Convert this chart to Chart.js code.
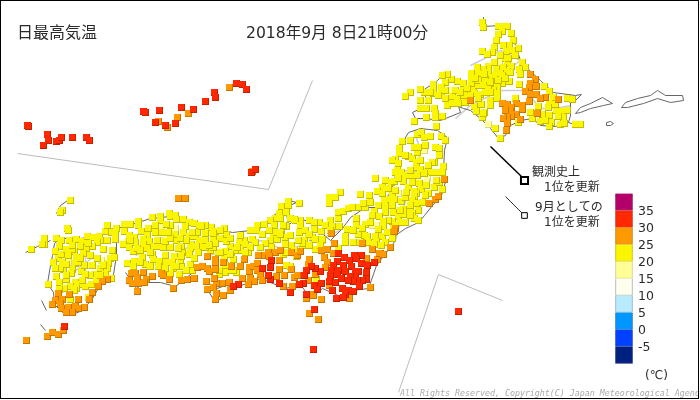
<!DOCTYPE html>
<html>
<head>
<meta charset="utf-8">
<style>
  html, body { margin: 0; padding: 0; background: #fff; }
  #wrap { position: relative; width: 700px; height: 400px; }
  #frame { position: absolute; left: 0; top: 0; width: 697px; height: 397px; border: 1.5px solid #000; pointer-events: none; }
</style>
<script src="https://cdn.jsdelivr.net/npm/chart.js@4"></script>
</head>
<body>
<div id="wrap">
  <canvas id="mapChart" width="700" height="400"></canvas>
  <div id="frame"></div>
</div>
<script>
// Station readings, grouped by temperature band: [x, y] on the map grid
const stationsPale = [
  [68,262],[90,265],[101,260],[161,226],[175,228],[166,237],[159,240],[208,232],[302,234],[322,240],
  [424,150],[427,178],[426,182],[398,193],[372,225],[376,225],[499,62],[449,90],[488,124]
];
const stationsYellow = [
  // Kyushu
  [70,200],[62,210],[60,212],[44,238],[44,244],[42,244],[31,249],[67,228],[68,230],[56,238],[61,240],[59,246],[55,251],[58,258],[53,262],[61,254],[66,249],[69,240],[76,239],[82,241],[87,236],[93,237],[99,236],[100,240],[97,242],[92,246],[86,248],[80,246],[74,251],[72,249],[83,253],[76,257],[75,263],[63,269],[72,269],[71,273],[81,271],[84,265],[92,265],[103,249],[107,240],[111,232],[105,231],[107,225],[116,228],[115,234],[115,239],[112,250],[110,258],[114,257],[108,263],[100,268],[107,268],[105,274],[111,278],[94,274],[90,275],[85,274],[56,276],[59,282],[66,279],[48,284],[75,282],[79,284],[85,286],[91,284],[70,286],[76,288],[74,290],[64,288],[59,289],[70,299],[88,297],
  [78,262],[68,255],[62,262],[90,255],[97,258],[103,265],[80,258],[72,245],[60,268],[66,275],[55,268],[82,280],[96,280],[100,275],[66,264],[88,243],
  // Chugoku, Shikoku
  [152,217],[160,216],[169,213],[170,216],[175,215],[176,219],[183,219],[189,222],[194,223],[199,225],[160,220],[155,225],[138,221],[138,225],[124,224],[130,224],[124,231],[129,235],[134,237],[128,242],[123,244],[129,247],[133,251],[135,242],[141,231],[147,235],[143,239],[149,241],[143,244],[147,248],[154,246],[158,246],[163,247],[170,247],[176,240],[175,234],[170,225],[166,224],[185,226],[183,232],[189,236],[195,236],[197,232],[199,240],[191,244],[190,248],[196,246],[198,252],[189,254],[182,252],[181,246],[174,256],[152,254],[153,259],[142,257],[145,264],[127,263],[134,261],[133,266],[159,261],[158,266],[166,262],[172,262],[173,268],[170,273],[179,274],[192,270],[190,264],[181,266],[180,260],[181,256],
  [130,240],[137,248],[150,252],[157,240],[165,241],[170,238],[165,255],[178,248],[186,240],[192,232],[180,238],[140,250],[148,228],[155,232],[162,232],[168,232],[140,262],[150,266],[165,268],[186,270],[176,266],[194,258],[203,246],
  // Kinki, Chubu, Kanto
  [288,201],[288,205],[299,203],[281,206],[286,212],[279,213],[275,218],[280,218],[270,220],[264,224],[257,225],[250,230],[256,230],[262,234],[252,239],[244,240],[239,242],[245,244],[240,250],[248,252],[231,254],[233,259],[226,234],[224,228],[211,227],[205,225],[201,226],[215,231],[220,238],[213,238],[205,240],[230,246],[226,241],[218,252],[210,250],[213,247],[205,247],[225,251],[224,258],[225,272],[219,274],[236,272],[230,270],[273,236],[276,232],[281,232],[277,239],[285,237],[286,226],[290,218],[294,219],[300,220],[309,220],[319,222],[314,229],[321,231],[312,237],[322,239],[304,240],[302,245],[291,245],[285,244],[270,240],[283,254],[286,265],[302,243],[315,249],[330,220],[332,226],[339,226],[338,218],[338,212],[343,211],[348,208],[340,192],[329,197],[335,197],[329,203],[347,229],[345,236],[345,242],[338,248],[316,279],[290,266],[296,256],
  [283,225],[295,220],[300,225],[314,222],[325,225],[330,230],[274,225],[269,230],[280,234],[290,235],[299,232],[305,230],[309,234],[315,239],[320,245],[298,240],[309,245],[294,250],[285,252],[271,247],[265,243],[260,247],[255,242],[250,247],[245,252],[235,250],[230,254],[220,252],[215,243],[209,245],[220,230],[213,233],[205,233],[230,238],[237,247],[240,235],[233,270],[219,270],[225,265],
  // Tohoku
  [417,134],[421,132],[424,137],[430,136],[441,136],[445,140],[410,140],[402,141],[399,148],[399,153],[395,159],[392,160],[398,163],[408,156],[412,158],[417,152],[414,147],[418,147],[425,145],[435,147],[439,148],[439,155],[434,162],[432,162],[416,162],[416,167],[420,169],[427,171],[432,172],[437,172],[443,166],[442,172],[397,170],[395,172],[401,172],[405,175],[411,175],[417,175],[424,173],[375,178],[385,180],[391,182],[394,181],[403,181],[408,187],[414,191],[419,183],[421,189],[434,187],[439,182],[442,189],[428,193],[416,193],[414,196],[392,193],[382,187],[377,191],[382,193],[360,194],[369,195],[378,205],[384,200],[390,199],[394,199],[385,206],[401,201],[405,197],[412,200],[417,203],[422,202],[403,209],[410,209],[418,210],[412,213],[414,218],[418,220],[358,207],[365,207],[363,203],[352,207],[374,211],[385,212],[393,212],[398,216],[403,214],[410,215],[379,216],[372,215],[356,218],[365,224],[356,225],[392,221],[388,220],[383,221],[383,226],[393,228],[375,236],[364,235],[382,236],[358,234],[353,230],[367,236],[387,232],[392,238],[385,242],[376,241],[368,242],[360,242],[353,242],[374,244],[381,245],
  [405,155],[420,160],[428,165],[410,170],[436,180],[426,185],[412,182],[398,178],[388,188],[406,192],[395,190],[400,210],[392,205],[425,195],[410,205],[370,202],[395,225],[370,222],[362,228],[378,229],[400,222],[405,222],
  // Hokkaido
  [482,22],[483,27],[498,26],[503,26],[507,26],[502,31],[498,34],[511,33],[496,40],[513,40],[509,45],[494,47],[503,45],[518,48],[492,52],[482,51],[487,54],[506,51],[512,50],[505,58],[507,63],[522,62],[525,67],[519,69],[520,74],[511,66],[503,67],[496,69],[488,66],[483,69],[477,67],[471,73],[471,79],[480,77],[488,72],[491,77],[485,79],[495,75],[500,73],[507,71],[509,81],[502,83],[491,83],[497,87],[493,90],[497,93],[497,98],[490,100],[490,105],[481,104],[474,106],[476,111],[484,112],[482,117],[483,113],[468,93],[463,88],[457,81],[451,79],[447,74],[442,75],[445,82],[433,84],[433,88],[433,93],[424,92],[420,89],[410,92],[405,96],[420,100],[428,100],[441,87],[441,93],[445,98],[447,105],[452,96],[457,98],[452,103],[458,103],[465,102],[464,95],[473,87],[474,93],[480,94],[478,85],[471,83],[463,83],[420,108],[426,108],[434,108],[426,117],[435,113],[435,117],[442,116],[414,121],[436,126],[519,84],[515,98],[544,86],[549,91],[553,97],[567,98],[572,99],[538,106],[549,103],[548,107],[556,110],[562,111],[567,110],[542,114],[549,115],[563,117],[532,118],[540,121],[551,122],[549,126],[560,124],[564,123],[575,124],[580,124],[518,122],[495,128],[500,138],
  [478,80],[483,85],[488,88],[455,90],[460,92],[470,96],[478,98],[485,92],[490,92],[438,95],[430,92],[445,90],[502,75],[498,80],[505,78],[510,72],[494,62],[500,55],[478,73],[484,74],[490,82],[467,88],[475,78],[515,55],[508,58],[545,120],[558,116],[555,104],[530,112]
];
const stationsOrange = [
  [178,198],[185,198],[158,121],[167,127],[177,117],[188,113],[229,87],[252,171],
  [107,279],[102,281],[98,286],[92,292],[89,299],[84,307],[78,299],[69,294],[58,293],[62,299],[55,300],[52,304],[60,303],[61,308],[68,307],[75,306],[78,308],[72,312],[66,312],[47,336],[52,332],[58,334],[63,330],[26,340],
  [131,273],[135,273],[143,272],[152,276],[161,273],[163,275],[137,277],[146,279],[129,280],[132,283],[138,283],[144,282],[169,279],[181,280],[187,279],[194,278],[173,288],[137,291],[197,267],
  [207,256],[215,259],[215,262],[223,262],[202,266],[207,268],[209,271],[215,269],[231,266],[240,266],[244,259],[249,267],[249,271],[253,266],[257,270],[257,263],[262,255],[258,255],[260,274],[262,280],[250,278],[254,281],[248,284],[242,278],[229,282],[222,283],[216,283],[214,278],[206,281],[207,289],[213,287],[230,290],[216,293],[223,295],[215,299],[268,252],[275,252],[280,250],[269,256],[279,260],[279,269],[291,269],[284,275],[276,276],[294,277],[297,275],[291,252],[297,255],[300,251],[309,259],[308,264],[321,250],[327,249],[333,253],[324,257],[327,262],[325,267],[315,274],[308,280],[292,286],[283,286],[310,294],[313,295],[306,298],[321,299],[309,313],[318,319],[370,287],[349,298],[329,285],[390,247],[395,228],[380,253],[377,259],[372,249],[362,243],[334,243],[331,233],[366,258],
  [444,179],[429,203],[435,199],[438,196],[394,231],[379,253],[383,254],
  [530,74],[535,79],[530,83],[529,87],[536,86],[525,91],[530,94],[536,94],[545,97],[540,98],[558,99],[529,101],[502,103],[507,104],[516,103],[511,107],[522,105],[522,109],[510,111],[505,110],[516,114],[511,116],[507,117],[503,118],[520,119],[507,123],[506,130],[537,113],[470,100]
];
const stationsRed = [
  [27,125],[28,126],[47,134],[48,140],[43,145],[56,141],[59,140],[61,137],[72,137],[86,137],[89,140],
  [143,111],[145,112],[159,110],[155,122],[165,125],[175,123],[181,107],[193,109],[205,101],[214,92],[215,97],[236,83],[242,84],[246,89],[251,172],[255,169],
  [64,326],[458,311],
  [338,253],[344,257],[354,255],[361,255],[356,258],[349,260],[337,261],[333,265],[343,265],[351,266],[361,263],[367,265],[374,262],[331,270],[338,270],[345,271],[355,271],[358,271],[366,272],[337,274],[355,276],[350,276],[330,275],[366,279],[362,280],[357,280],[353,281],[348,280],[341,278],[335,282],[329,281],[321,283],[314,285],[317,289],[332,290],[342,288],[348,290],[353,291],[359,286],[345,294],[336,298],[343,297],[320,271],[315,268],[311,266],[306,270],[304,275],[303,283],[299,284],[306,294],[290,292],[279,283],[270,279],[268,275],[262,268],[270,267],[271,260],[238,284],[233,286],[314,309],[313,349]
];

// Colours for the bands above
const paleColors = ['#FFFF96', '#D8D880'];
const yellowColors = ['#FAF500', '#C4BC00'];
const orangeColors = ['#FF9900', '#C47600'];
const redColors = ['#FF2800', '#C42000'];

// Colour bar of the key
const keyEdges = [193, 210, 227, 244, 261, 278, 295, 312, 329, 346, 363];
const keyColors = ['#B40068', '#FF2800', '#FF9900', '#FAF500', '#FFFF96', '#FFFFF0', '#B9EBFF', '#0096FF', '#0041FF', '#002080'];
const keyBorders = ['#8a0050', '#c42000', '#c47600', '#c4bc00', '#d0d080', '#b0b0a0', '#8cb0c0', '#0070c0', '#0030c0', '#001860'];
const keyLabels = ['35', '30', '25', '20', '15', '10', '5', '0', '-5'];

// Coast and boundary outlines
const coastLines = [
  [[575,113],[580,107],[590,103],[602,97],[612,103],[603,105],[590,108],[580,112],[575,113]],
  [[621,107],[625,102],[637,98],[650,95],[657,90],[665,95],[682,95],[683,100],[670,102],[657,98],[643,103],[627,107],[621,107]],
  [[606,122],[610,121],[613,123],[610,125],[606,125],[606,122]],
  [[483,17],[483,26],[500,25],[510,30],[515,45],[520,60],[527,68],[540,80],[553,92],[575,95],[581,94],[575,100],[570,102],[570,115],[568,122],[582,127]],
  [[568,122],[555,126],[540,125],[532,118],[520,120],[510,125],[505,135],[498,138],[490,128],[480,118],[470,110],[463,108],[458,106],[460,112],[440,120],[425,118],[415,118],[412,112],[420,108]],
  [[442,75],[437,80],[430,85],[425,88],[425,100]],
  [[420,128],[437,130],[447,137],[444,150],[443,170],[446,178],[441,195],[432,205],[424,215],[418,222],[405,228],[395,235]],
  [[378,207],[390,192],[396,172],[399,147],[408,132],[420,128]],
  [[378,207],[365,207],[350,217],[342,228],[330,240],[318,230],[310,221],[295,218],[288,225],[285,207],[296,202],[289,200],[282,208],[262,224],[250,230],[232,232],[215,228],[200,224],[170,216],[150,218],[125,226],[116,228]],
  [[116,228],[106,229],[100,235],[80,238],[60,238],[54,243],[52,255],[50,265],[47,283],[53,292],[54,304],[62,312],[72,314],[82,310],[92,298],[100,284],[113,274],[116,255],[116,240]],
  [[125,272],[136,288],[145,282],[160,282],[175,286],[195,270]],
  [[222,297],[215,302],[208,291],[225,285],[235,287],[260,278],[285,288],[300,284],[310,298],[322,288],[340,296],[345,300],[352,290],[368,288],[376,265],[395,240]],
  [[25,252],[37,246],[50,240]],[[56,213],[60,205],[70,198]],[[41,300],[46,310]],[[40,324],[45,330]]
];
const innerLines = [
  [[455,118],[470,105],[480,100],[500,90],[525,90],[540,108],[555,108],[570,105]],
  [[470,65],[500,50],[520,60],[500,75],[490,90]],
  [[405,190],[415,180],[420,150],[415,135]],[[400,170],[430,172]],[[395,240],[405,200]],
  [[60,260],[75,270],[95,255]],[[85,255],[85,290]],[[135,255],[155,245],[175,250],[198,245]],
  [[205,255],[235,250],[260,240],[285,250],[315,240],[340,230]]
];
const insetLines = [
  [[17,153],[268,189],[312,80]],
  [[502,300],[438,274],[398,392]]
];

// Key symbols for record-breaking stations
const recordLines = [
  [[490,146],[522,177]],
  [[505,196],[522,213]]
];
const recordMarks = [[524,180],[524,215]];

// Text
const titleText = '日最高気温';
const dateText = '2018年9月 8日21時00分';
const recordNotes = ['観測史上', '1位を更新', '9月としての', '1位を更新'];
const unitText = '(℃)';
const creditText = 'All Rights Reserved, Copyright(C) Japan Meteorological Agency';

const JP_FONT = '"DejaVu Sans", "Noto Sans CJK JP", sans-serif';

// 7px square with a darker right and bottom edge, like the original markers
function makeMarker(colors) {
  const c = document.createElement('canvas');
  c.width = 7;
  c.height = 7;
  const g = c.getContext('2d');
  g.fillStyle = colors[1];
  g.fillRect(0, 0, 7, 7);
  g.fillStyle = colors[0];
  g.fillRect(0, 0, 6, 6);
  return c;
}

function stationDataset(points, colors, order) {
  return {
    data: points.map(p => ({ x: p[0], y: p[1] })),
    pointStyle: makeMarker(colors),
    pointRadius: 4,
    showLine: false,
    order: order
  };
}

function lineDatasets(lines, color, width, order) {
  return lines.map(line => ({
    data: line.map(p => ({ x: p[0], y: p[1] })),
    showLine: true,
    borderColor: color,
    borderWidth: width,
    pointRadius: 0,
    tension: 0,
    order: order
  }));
}

const textPlugin = {
  id: 'mapText',
  afterDraw(chart) {
    const ctx = chart.ctx;
    ctx.save();
    ctx.textBaseline = 'middle';
    ctx.fillStyle = '#2a2a2a';
    ctx.font = '16px ' + JP_FONT;
    ctx.fillText(titleText, 17, 34);
    ctx.font = '15.6px ' + JP_FONT;
    ctx.fillText(dateText, 246, 34);
    ctx.font = '12px ' + JP_FONT;
    ctx.fillText(recordNotes[0], 532, 173);
    ctx.fillText(recordNotes[1], 544, 188);
    ctx.fillText(recordNotes[2], 535, 208);
    ctx.fillText(recordNotes[3], 544, 223);
    ctx.font = '12.5px ' + JP_FONT;
    keyLabels.forEach((label, i) => {
      ctx.fillText(label, 638, keyEdges[i + 1] + 2);
    });
    ctx.font = '12px ' + JP_FONT;
    ctx.fillText(unitText, 645, 376);
    ctx.fillStyle = '#aaa';
    ctx.font = 'italic 8.3px "DejaVu Sans Mono", monospace';
    ctx.fillText(creditText, 400, 394);
    ctx.restore();
  }
};

new Chart(document.getElementById('mapChart').getContext('2d'), {
  type: 'scatter',
  data: {
    datasets: [
      stationDataset(stationsRed, redColors, 1),
      stationDataset(stationsOrange, orangeColors, 2),
      stationDataset(stationsYellow, yellowColors, 3),
      stationDataset(stationsPale, paleColors, 4),
      ...lineDatasets(coastLines, '#666', 1, 6),
      ...lineDatasets(innerLines, '#ccc', 1.5, 7),
      ...lineDatasets(insetLines, '#bbb', 1, 7),
      lineDatasets([recordLines[0]], '#000', 1.5, 5)[0],
      lineDatasets([recordLines[1]], '#000', 0.8, 5)[0],
      {
        data: [{ x: recordMarks[0][0], y: recordMarks[0][1] }],
        pointStyle: 'rect',
        pointRadius: 5,
        pointBackgroundColor: '#fff',
        pointBorderColor: '#000',
        pointBorderWidth: 2,
        order: 1
      },
      {
        data: [{ x: recordMarks[1][0], y: recordMarks[1][1] }],
        pointStyle: 'rect',
        pointRadius: 4,
        pointBackgroundColor: '#fff',
        pointBorderColor: '#000',
        pointBorderWidth: 1,
        order: 1
      },
      {
        type: 'bar',
        data: keyColors.map((c, i) => ({ x: 623.5, y: [keyEdges[i], keyEdges[i + 1]] })),
        backgroundColor: keyColors,
        borderColor: keyBorders,
        borderWidth: 1,
        barThickness: 17,
        grouped: false,
        order: 1
      }
    ]
  },
  options: {
    responsive: false,
    animation: false,
    events: [],
    layout: { padding: 0, autoPadding: false },
    plugins: { legend: { display: false }, tooltip: { enabled: false }, title: { display: false } },
    scales: {
      x: { type: 'linear', display: false, min: -0.5, max: 699.5, offset: false },
      y: { type: 'linear', display: false, min: -0.5, max: 399.5, reverse: true, offset: false }
    }
  },
  plugins: [textPlugin]
});
</script>
</body>
</html>
